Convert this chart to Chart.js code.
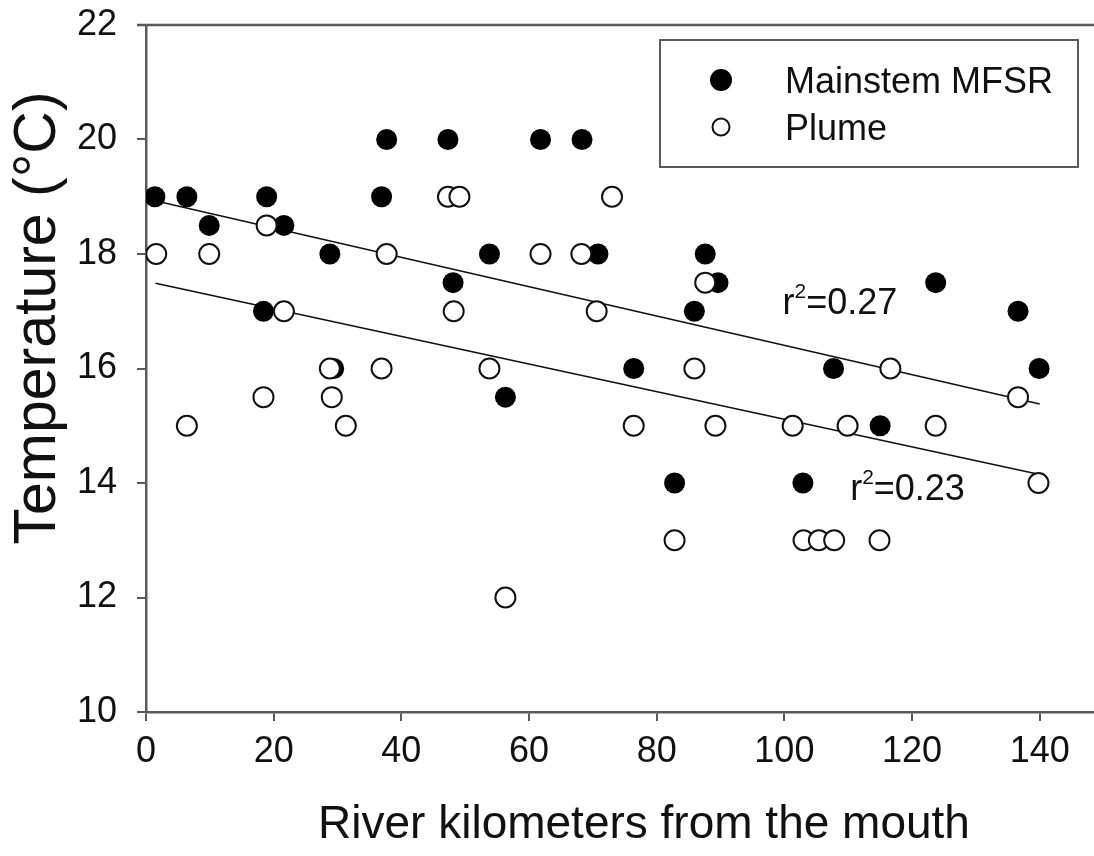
<!DOCTYPE html>
<html>
<head>
<meta charset="utf-8">
<script src="https://cdn.jsdelivr.net/npm/chart.js@4.4.1/dist/chart.umd.min.js"></script>
<style>
  html, body { margin: 0; padding: 0; background: #fff; overflow: hidden; }
  canvas { display: block; }
</style>
</head>
<body>
<canvas id="chart" width="1094" height="856"></canvas>
<script>
// ==================== DATA ====================
const mainX = [1.4, 6.4, 9.9, 18.9, 21.6, 28.8, 36.9, 37.7, 18.4, 47.3, 48.1, 61.8, 68.3, 53.8,
    70.8, 87.6, 89.6, 85.9, 76.4, 56.3, 82.8, 102.9, 107.7, 115.0, 123.7, 136.6, 139.9, 29.4];
const mainY = [19, 19, 18.5, 19, 18.5, 18, 19, 20, 17, 20, 17.5, 20, 20, 18,
    18, 18, 17.5, 17, 16, 15.5, 14, 14, 16, 15, 17.5, 17, 16, 16];

const plumeX = [1.6, 9.9, 18.9, 37.7, 47.3, 49.1, 48.2, 28.8, 36.9, 18.4, 29.1, 6.4, 31.3, 56.3,
    73.0, 61.8, 68.2, 70.6, 87.6, 53.8, 85.9, 76.4, 89.2, 116.6, 136.6, 101.3, 109.9, 123.7,
    139.8, 82.8, 103.0, 105.4, 107.8, 114.9, 21.6];
const plumeY = [18, 18, 18.5, 18, 19, 19, 17, 16, 16, 15.5, 15.5, 15, 15, 12,
    19, 18, 18, 17, 17.5, 16, 16, 15, 15, 16, 15.5, 15, 15, 15,
    14, 13, 13, 13, 13, 13, 17];

// regression lines (end points)
const mainFitX = [1.4, 140];
const mainFitY = [18.93, 15.38];
const plumeFitX = [1.5, 140];
const plumeFitY = [17.49, 14.15];

const xTicks = [0, 20, 40, 60, 80, 100, 120, 140];
const yTicks = [10, 12, 14, 16, 18, 20, 22];

const seriesNames = ['Mainstem MFSR', 'Plume'];
const xTitle = 'River kilometers from the mouth';
const yTitle = 'Temperature (°C)';
const fitLabels = [
    { x: 99.7, y: 16.95, r2: '0.27' },
    { x: 110.3, y: 13.71, r2: '0.23' }
];

const FONT = '"Liberation Sans", Arial, sans-serif';
const AXIS = '#5a5a5a';

function pts(xs, ys) { return xs.map((x, i) => ({ x: x, y: ys[i] })); }

// ==================== PLUGIN: frame, titles, legend, r2 labels ====================
const extras = {
    id: 'extras',
    afterDatasetsDraw(chart) {
        const ctx = chart.ctx;
        const a = chart.chartArea;
        const xs = chart.scales.x, ys = chart.scales.y;
        ctx.save();

        // top frame line
        ctx.strokeStyle = AXIS;
        ctx.lineWidth = 2.5;
        ctx.beginPath();
        ctx.moveTo(a.left - 9, a.top);
        ctx.lineTo(a.right, a.top);
        ctx.stroke();

        // axis titles
        ctx.fillStyle = '#111';
        ctx.textBaseline = 'alphabetic';
        ctx.textAlign = 'center';
        ctx.font = '46px ' + FONT;
        ctx.fillText(xTitle, 644, 838);
        ctx.save();
        ctx.translate(55, 318);
        ctx.rotate(-Math.PI / 2);
        ctx.font = '59px ' + FONT;
        ctx.fillText(yTitle, 0, 0);
        ctx.restore();

        // r^2 labels
        ctx.textAlign = 'left';
        fitLabels.forEach(l => {
            let px = xs.getPixelForValue(l.x);
            const py = ys.getPixelForValue(l.y);
            ctx.font = '36px ' + FONT;
            ctx.fillText('r', px, py);
            px += ctx.measureText('r').width;
            ctx.font = '21px ' + FONT;
            ctx.fillText('2', px, py - 16);
            px += ctx.measureText('2').width;
            ctx.font = '36px ' + FONT;
            ctx.fillText('=' + l.r2, px, py);
        });

        // legend box
        ctx.strokeStyle = AXIS;
        ctx.lineWidth = 2;
        ctx.fillStyle = '#fff';
        ctx.fillRect(660, 40, 418, 127);
        ctx.strokeRect(660, 40, 418, 127);

        ctx.fillStyle = '#000';
        ctx.beginPath();
        ctx.arc(721, 80, 11, 0, Math.PI * 2);
        ctx.fill();

        ctx.fillStyle = '#fff';
        ctx.strokeStyle = '#111';
        ctx.lineWidth = 2;
        ctx.beginPath();
        ctx.arc(721, 127, 8.5, 0, Math.PI * 2);
        ctx.fill();
        ctx.stroke();

        ctx.fillStyle = '#111';
        ctx.font = '36px ' + FONT;
        ctx.fillText(seriesNames[0], 785, 93);
        ctx.fillText(seriesNames[1], 785, 140);

        ctx.restore();
    }
};

// ==================== CHART ====================
new Chart(document.getElementById('chart'), {
    type: 'scatter',
    data: {
        datasets: [{
            label: seriesNames[1],
            data: pts(plumeX, plumeY),
            pointRadius: 10,
            pointBackgroundColor: '#fff',
            pointBorderColor: '#111',
            pointBorderWidth: 2,
            order: 1
        }, {
            label: seriesNames[0],
            data: pts(mainX, mainY),
            pointRadius: 10.5,
            pointBackgroundColor: '#000',
            pointBorderColor: '#000',
            pointBorderWidth: 0,
            order: 2
        }, {
            type: 'line',
            data: pts(mainFitX, mainFitY),
            borderColor: '#111',
            borderWidth: 1.6,
            pointRadius: 0,
            order: 3
        }, {
            type: 'line',
            data: pts(plumeFitX, plumeFitY),
            borderColor: '#111',
            borderWidth: 1.6,
            pointRadius: 0,
            order: 3
        }]
    },
    options: {
        responsive: false,
        animation: false,
        layout: { autoPadding: false, padding: { top: 25, right: 0, left: 0, bottom: 0 } },
        plugins: { legend: { display: false }, tooltip: { enabled: false } },
        scales: {
            x: {
                type: 'linear',
                min: 0,
                max: 148.5,
                afterBuildTicks: s => { s.ticks = xTicks.map(v => ({ value: v })); },
                afterFit: s => { s.height = 144; s.paddingLeft = 0; s.paddingRight = 0; },
                grid: { drawOnChartArea: false, drawTicks: true, tickLength: 9, color: AXIS, lineWidth: 2 },
                border: { display: true, color: AXIS, width: 2.5 },
                ticks: { color: '#111', padding: 9, maxRotation: 0, font: { family: FONT, size: 36 } }
            },
            y: {
                type: 'linear',
                min: 10,
                max: 22,
                afterBuildTicks: s => { s.ticks = yTicks.map(v => ({ value: v })); },
                afterFit: s => { s.width = 146; s.paddingTop = 0; s.paddingBottom = 0; },
                grid: { drawOnChartArea: false, drawTicks: true, tickLength: 9, color: AXIS, lineWidth: 2 },
                border: { display: true, color: AXIS, width: 2.5 },
                ticks: { color: '#111', padding: 20, font: { family: FONT, size: 36 } }
            }
        }
    },
    plugins: [extras]
});
</script>
</body>
</html>
